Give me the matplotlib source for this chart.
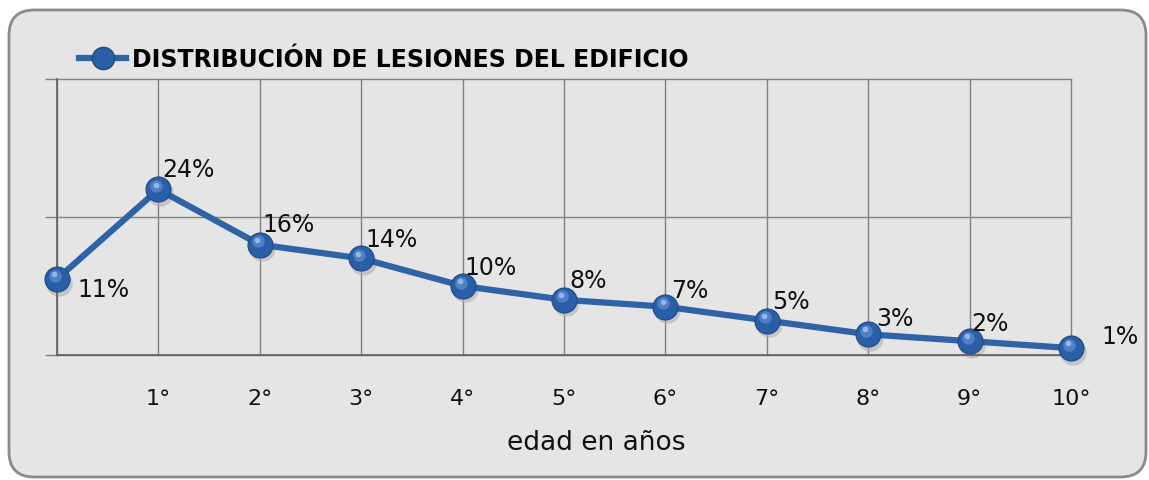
import numpy as np
import matplotlib.pyplot as plt
from matplotlib.patches import FancyBboxPatch
from matplotlib.lines import Line2D
import matplotlib.transforms as mtransforms

### Data
x_pos = list(range(11))
tick_labels = ['', '1°', '2°', '3°', '4°', '5°', '6°', '7°', '8°', '9°', '10°']
valores = [11, 24, 16, 14, 10, 8, 7, 5, 3, 2, 1]
serie = 'DISTRIBUCIÓN DE LESIONES DEL EDIFICIO'
# label offsets (points) from each marker
lab_dx = [15, 3, 2, 3, 1, 4, 4, 4, 6, 1, 22]
lab_dy = [-7, 15, 15, 14, 14, 14, 12, 14, 12, 13, 9]

azul = '#2f62a6'
gris = '#808080'

fig = plt.figure(figsize=(11.49, 4.81), dpi=100)
fig.patch.set_facecolor('white')

# rounded background box
box = FancyBboxPatch((9/1149, 3/481), 1137/1149, 467/481,
                     boxstyle='round,pad=0,rounding_size=0.022',
                     transform=fig.transFigure, facecolor='#e5e5e5',
                     edgecolor='#8a8a8a', linewidth=2, mutation_aspect=1149/481,
                     zorder=-5)
fig.patches.append(box)

ax = fig.add_axes([57/1149, 125/481, (1071-57)/1149, (356-80)/481])
ax.set_facecolor('none')

# shadow
sh = mtransforms.offset_copy(ax.transData, fig=fig, x=1.5, y=-2.5, units='points')
ax.plot(x_pos, valores, 'o', ms=19, color='#b0b0b0', alpha=0.6, mec='none',
        transform=sh, zorder=2, clip_on=False)
ax.plot(x_pos, valores, '-', color=azul, lw=4.5, zorder=3, clip_on=False)
ax.plot(x_pos, valores, 'o', ms=18, color='#2a5fa8', mec='#1d4a86', mew=0.8,
        zorder=4, clip_on=False)
hl = mtransforms.offset_copy(ax.transData, fig=fig, x=-1.5, y=2.5, units='points')
ax.plot(x_pos, valores, 'o', ms=9, color='#5f8fd0', mec='none', alpha=0.7,
        transform=hl, zorder=5, clip_on=False)
hl2 = mtransforms.offset_copy(ax.transData, fig=fig, x=-2, y=3.5, units='points')
ax.plot(x_pos, valores, 'o', ms=4, color='#a9c6ee', mec='none', alpha=0.8,
        transform=hl2, zorder=6, clip_on=False)

for xi, v, dx, dy in zip(x_pos, valores, lab_dx, lab_dy):
    ax.annotate(f'{v}%', (xi, v), xytext=(dx, dy), textcoords='offset points',
                ha='left', va='center', fontsize=17, color='#111111',
                family='DejaVu Sans', zorder=7)

ax.set_xlim(0, 10)
ax.set_ylim(0, 40)
ax.set_yticks([0, 20, 40])
ax.set_yticklabels([])
ax.set_xticks(x_pos)
ax.set_xticklabels(tick_labels, fontsize=16, color='#111111')
ax.tick_params(axis='x', length=0, pad=24)
ax.tick_params(axis='y', length=9, color=gris, width=1)
ax.grid(True, color=gris, lw=1)
for gl in ax.get_xgridlines() + ax.get_ygridlines():
    gl.set_clip_on(False)
for s in ['top', 'right']:
    ax.spines[s].set_visible(False)
for s in ['left', 'bottom']:
    ax.spines[s].set_color('#606060')
    ax.spines[s].set_linewidth(1.2)
ax.set_axisbelow(True)
ax.set_xlabel('edad en años', fontsize=19, color='#111111', va='center')
ax.xaxis.set_label_coords(0.532, -0.315)

handle = Line2D([], [], color=azul, lw=4.5, marker='o', ms=16,
                mfc='#2a5fa8', mec='#1d4a86')
leg = fig.legend([handle], [serie], loc='center left',
                 bbox_to_anchor=(58/1149, 1 - 60/481), frameon=False,
                 handlelength=2.0, handletextpad=0.25,
                 prop={'family': 'DejaVu Sans', 'weight': 'bold', 'size': 17})

plt.savefig('out.png', dpi=100)
